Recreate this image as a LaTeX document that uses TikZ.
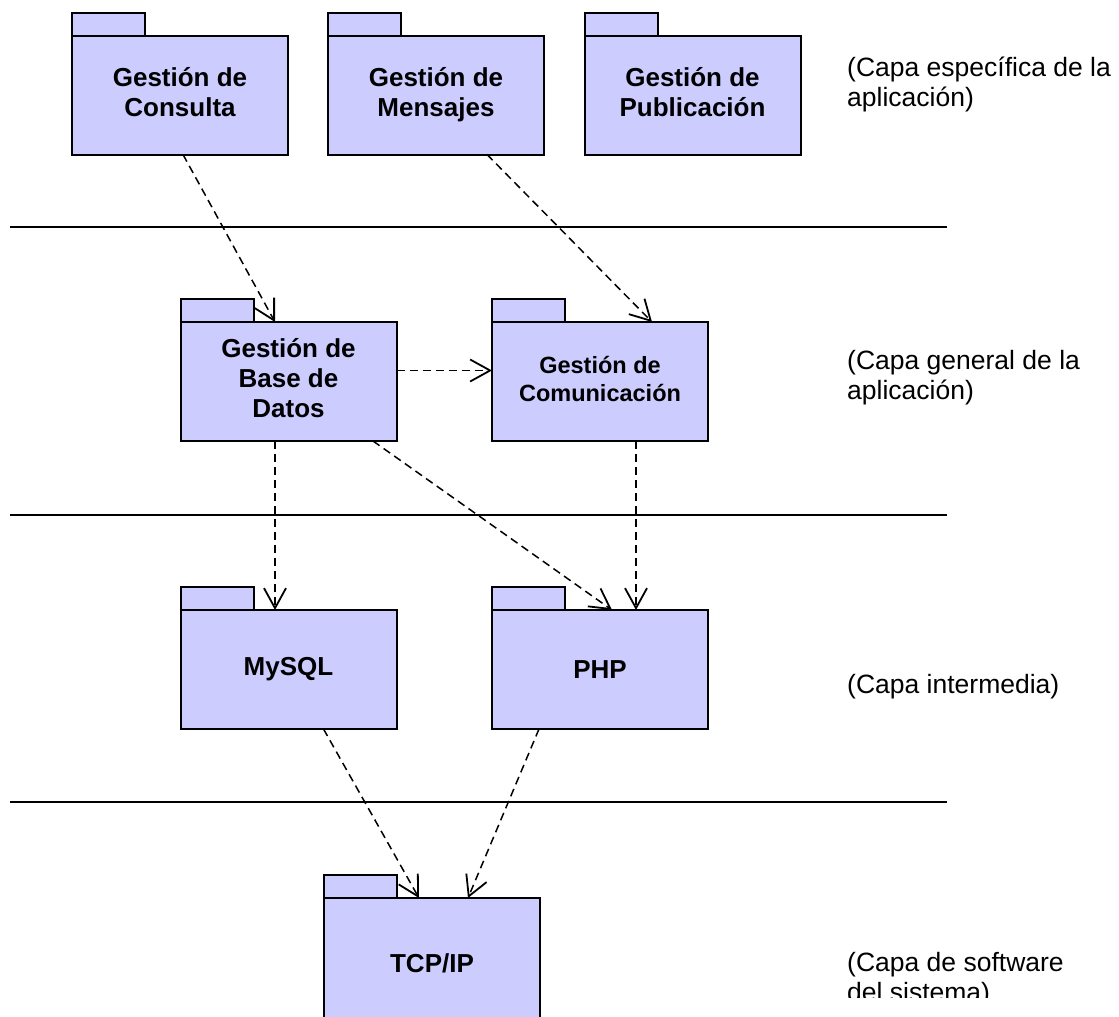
\documentclass[tikz,border=0pt]{standalone}
\usepackage{fontspec}
\setmainfont{Liberation Sans}
\usetikzlibrary{arrows.meta,calc}
\definecolor{pkgfill}{HTML}{CCCCFF}
\def\TabW{73}
\def\TabH{23}

\begin{document}
\begin{tikzpicture}[x=1pt,y=-1pt,
  pkg/.style={draw=black,fill=pkgfill,line width=2pt,outer sep=0pt,inner sep=0pt,
    minimum width=216pt,minimum height=119pt,align=center,
    font=\bfseries\fontsize{26}{30}\selectfont},
  pkgtab/.style={draw=black,fill=pkgfill,line width=2pt},
  dep/.style={draw=black,line width=1.5pt,dash pattern=on 8pt off 5pt,
    -{Straight Barb[length=20pt,width=22pt,line width=1.8pt]}},
  layer/.style={line width=1.6pt},
  capa/.style={anchor=west,inner sep=0pt,align=left,font=\fontsize{26.5}{30}\selectfont}]
\useasboundingbox (0,0) rectangle (1119,1017);

\node[pkg] (cons) at (180,95) {Gestión de\strut\\Consulta\strut};
\node[pkg] (mens) at (436,95) {Gestión de\strut\\Mensajes\strut};
\node[pkg] (publ) at (692.5,95) {Gestión de\strut\\Publicación\strut};
\node[pkg] (bd) at (288.5,381.5) {Gestión de\strut\\Base de\strut\\Datos\strut};
\node[pkg,font=\bfseries\fontsize{23.5}{28}\selectfont] (com) at (600,381.5) {Gestión de\strut\\Comunicación\strut};
\node[pkg] (mysql) at (288.5,669.5) {MySQL};
\node[pkg] (php) at (600,669.5) {PHP};
\node[pkg,minimum height=130pt] (tcp) at (432,963) {TCP/IP};

\foreach \n in {cons,mens,publ,bd,com,mysql,php,tcp}
  \filldraw[pkgtab] (\n.north west) rectangle ++(\TabW,-\TabH);

\foreach \y in {227,515,802}
  \draw[layer] (10,\y) -- (947,\y);

\draw[dep] ([xshift=3pt]cons.south) -- ([xshift=-13.5pt]bd.north);
\draw[dep] ([xshift=51pt]mens.south) -- ([xshift=52pt]com.north);
\draw[dep] ([yshift=11pt]bd.east) -- ([yshift=11pt]com.west);
\draw[dep] ([xshift=-13.5pt]bd.south) -- ([xshift=-13.5pt]mysql.north);
\draw[dep] ([xshift=84.5pt]bd.south) -- ([xshift=12pt]php.north);
\draw[dep] ([xshift=36pt]com.south) -- ([xshift=36pt]php.north);
\draw[dep] ([xshift=35pt]mysql.south) -- ([xshift=-13pt]tcp.north);
\draw[dep] ([xshift=-61pt]php.south) -- ([xshift=36pt]tcp.north);

\node[capa] (c1) at (847,84) {(Capa específica de la\\aplicación)};
\node[capa] (c2) at (847,378) {(Capa general de la\\aplicación)};
\node[capa] (c3) at (847,687) {(Capa intermedia)};
\begin{scope}
\clip (800,900) rectangle (1119,997);
\node[capa] (c4) at (847,980) {(Capa de software\\del sistema)};
\end{scope}
\end{tikzpicture}
\end{document}
